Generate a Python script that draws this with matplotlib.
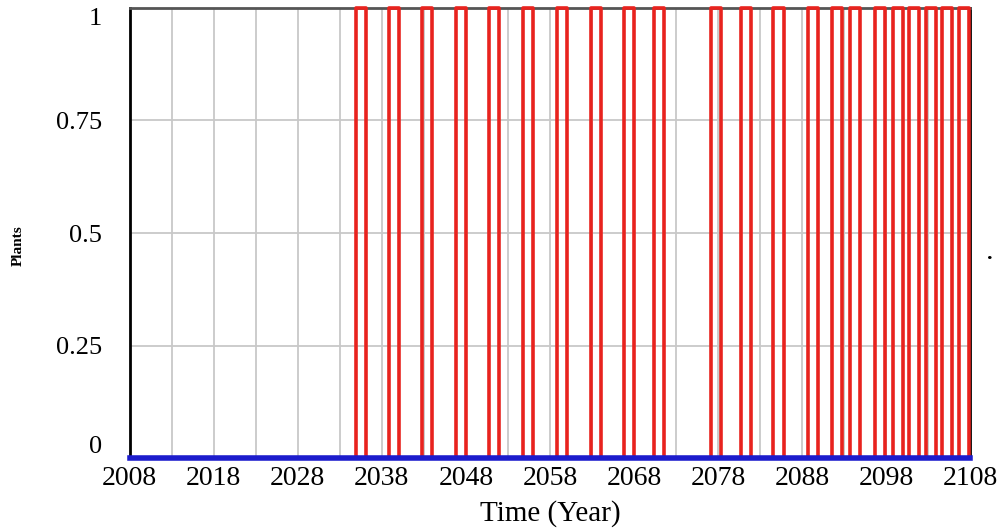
import matplotlib.pyplot as plt

# pulse edges (years)
pulse_on = [2034.9, 2038.9, 2042.8, 2046.8, 2050.8, 2054.8, 2058.8, 2062.9,
            2066.8, 2070.4, 2077.2, 2080.7, 2084.6, 2088.7, 2091.6, 2093.7,
            2096.7, 2098.8, 2100.7, 2102.7, 2104.7, 2106.7]
pulse_off = [2036.1, 2040.1, 2044.0, 2048.0, 2052.0, 2056.0, 2060.0, 2064.1,
             2068.0, 2071.6, 2078.4, 2081.9, 2085.8, 2089.9, 2092.8, 2094.9,
             2097.9, 2100.0, 2101.9, 2103.9, 2105.9, 2107.9]
pulse_high = 1
base_years = [2008, 2108]
base_values = [0, 0]

xticks = list(range(2008, 2109, 10))
yticks = [0, 0.25, 0.5, 0.75, 1]
ylabels = ['0', '0.25', '0.5', '0.75', '1']

# build the step trace from the pulse edges
tx, ty = [base_years[0]], [0]
for on, off in zip(pulse_on, pulse_off):
    tx += [on, on, off, off]
    ty += [0, pulse_high, pulse_high, 0]
tx.append(base_years[1])
ty.append(0)

fig = plt.figure(figsize=(9.98, 5.29), dpi=100)
ax = fig.add_axes([0.130, 0.134, 0.842, 0.851])

ax.set_xlim(2008, 2108)
ax.set_ylim(0, 1)
for x in range(2013, 2108, 5):
    ax.axvline(x, color='#c8c8c8', lw=1.3, zorder=0)
for y in yticks[1:-1]:
    ax.axhline(y, color='#c8c8c8', lw=1.3, zorder=0)

ax.plot(tx, ty, color='#e8231e', lw=2.6, clip_on=False, zorder=3)
ax.plot(base_years, base_values, color='#1c1ccc', lw=4, clip_on=False, zorder=4)

for side in ['left', 'right']:
    ax.spines[side].set_color('black')
    ax.spines[side].set_linewidth(2)
ax.spines['top'].set_color('#555555')
ax.spines['top'].set_linewidth(2)
ax.spines['bottom'].set_visible(False)

ax.set_xticks(xticks)
ax.set_xticklabels([str(t) for t in xticks], family='Liberation Serif', fontsize=20)
ax.set_yticks(yticks)
ax.set_yticklabels(ylabels, family='Liberation Serif', fontsize=19)
ax.tick_params(axis='x', length=0, pad=6)
ax.tick_params(axis='y', length=0, pad=20)
ylab = ax.get_yticklabels()
ylab[0].set_va('bottom')
ylab[-1].set_va('top')

ax.set_xlabel('Time (Year)', family='Liberation Serif', fontsize=21, labelpad=6)
fig.text(0.018, 0.535, 'Plants', rotation=90, family='Liberation Serif',
         fontsize=11, fontweight='bold', ha='center', va='center')
fig.text(0.992, 0.52, '.', family='Liberation Serif', fontsize=16,
         fontweight='bold', ha='center', va='center')

fig.savefig('out.png', dpi=100)
